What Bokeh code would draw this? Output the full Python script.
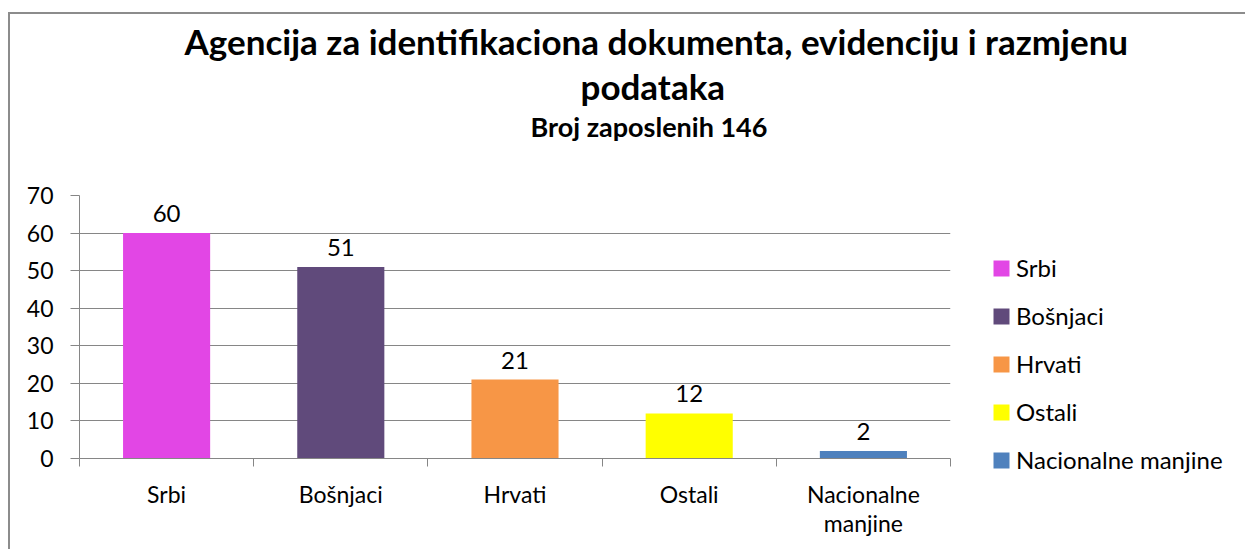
from bokeh.plotting import figure
from bokeh.models import (Range1d, FixedTicker, ColumnDataSource, LabelSet, Title,
                          Legend, LegendItem)
from bokeh.core.properties import value
from bokeh.embed import file_html
from bokeh.resources import INLINE

categories = ["Srbi", "Bošnjaci", "Hrvati", "Ostali", "Nacionalne manjine"]
tick_labels = ["Srbi", "Bošnjaci", "Hrvati", "Ostali", "Nacionalne\nmanjine"]
values = [60, 51, 21, 12, 2]
colors = ["#E246E5", "#604A7B", "#F79646", "#FFFF00", "#4F81BD"]
y_ticks = [0, 10, 20, 30, 40, 50, 60, 70]
title_line1 = "Agencija za identifikaciona dokumenta, evidenciju i razmjenu"
title_line2 = "podataka"
subtitle = "Broj zaposlenih 146"

FONT = "Lato"
GRAY = "#868686"
TXT = "#000000"

n = len(categories)
centers = [i + 0.5 for i in range(n)]
bounds = [float(i) for i in range(n + 1)]
src = ColumnDataSource(dict(x=centers, top=values, color=colors,
                            label=[str(v) for v in values]))

p = figure(frame_width=871, frame_height=263, output_backend="svg",
           toolbar_location=None, x_range=Range1d(0, n), y_range=Range1d(0, 70),
           min_border_left=69, min_border_right=294, min_border_top=181,
           min_border_bottom=93, outline_line_color=None, tools="")
p.styles = {"position": "relative", "left": "10px", "top": "14px",
            "box-shadow": "-2px -2px 0px 0px #8c8c8c"}

r = p.vbar(x="x", top="top", width=0.5, color="color", line_color=None, source=src)

ya = p.yaxis[0]
ya.ticker = FixedTicker(ticks=y_ticks)
ya.major_tick_out = 9
ya.major_tick_in = 0
ya.minor_tick_out = 0
ya.minor_tick_in = 0
ya.axis_line_color = GRAY
ya.major_tick_line_color = GRAY
ya.major_label_text_font = FONT
ya.major_label_text_font_size = "23px"
ya.major_label_text_color = TXT
ya.major_label_standoff = 17

xa = p.xaxis[0]
xa.ticker = FixedTicker(ticks=centers, minor_ticks=bounds)
xa.major_label_overrides = {c: t for c, t in zip(centers, tick_labels)}
xa.major_tick_out = 0
xa.major_tick_in = 0
xa.minor_tick_out = 8
xa.minor_tick_in = 0
xa.minor_tick_line_color = GRAY
xa.axis_line_color = GRAY
xa.major_label_text_font = FONT
xa.major_label_text_font_size = "23px"
xa.major_label_text_color = TXT
xa.major_label_text_line_height = 1.07
xa.major_label_standoff = 13

p.xgrid.grid_line_color = None
p.ygrid.ticker = FixedTicker(ticks=y_ticks)
p.ygrid.grid_line_color = GRAY
p.ygrid.grid_line_width = 1

labels = LabelSet(x="x", y="top", text="label", source=src, text_align="center",
                  text_baseline="alphabetic", y_offset=11, text_font=value(FONT),
                  text_font_size="24px", text_color=TXT)
p.add_layout(labels)

# titles stacked in the "above" panel (closest to the frame first)
p.add_layout(Title(text=" ", text_font_size="10px", standoff=37), "above")
p.add_layout(Title(text=subtitle, text_font=FONT, text_font_style="bold",
                   text_font_size="27px", text_color=TXT, align="left",
                   offset=451, standoff=5), "above")
p.add_layout(Title(text=title_line2, text_font=FONT, text_font_style="bold",
                   text_font_size="35px", text_color=TXT, align="left",
                   offset=501, standoff=-2), "above")
p.add_layout(Title(text=title_line1, text_font=FONT, text_font_style="bold",
                   text_font_size="35px", text_color=TXT, align="left",
                   offset=105, standoff=4), "above")

items = [LegendItem(label=c, renderers=[r], index=i) for i, c in enumerate(categories)]
legend = Legend(items=items, location=(41, -16), orientation="vertical",
                glyph_width=20, glyph_height=20, label_height=20, label_standoff=5,
                spacing=19, padding=0, margin=0, border_line_color=None,
                background_fill_alpha=0, label_text_font=FONT,
                label_text_font_size="24px", label_text_color=TXT)
p.add_layout(legend, "right")

open("out.html", "w").write(file_html(p, INLINE))
